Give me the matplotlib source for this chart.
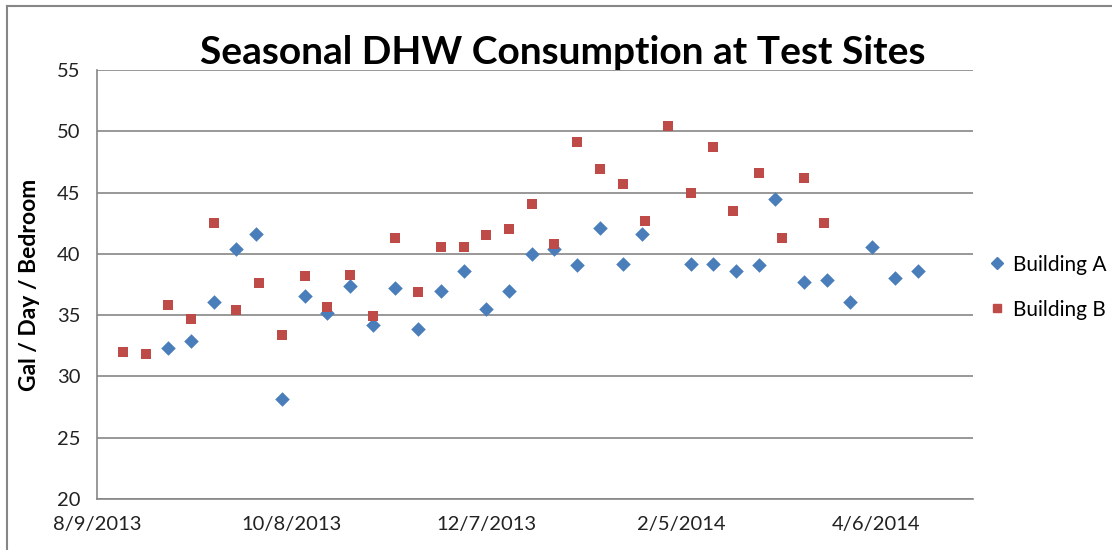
import datetime as dt

import matplotlib
matplotlib.use("Agg")
import matplotlib.dates as mdates
from matplotlib import pyplot as plt
from matplotlib.lines import Line2D

# data (day offsets from 8/9/2013)
START = dt.date(2013, 8, 9)
days_a = [22, 29, 36, 43, 49, 57, 64, 71, 78, 85, 92, 99, 106, 113, 120, 127,
          134, 141, 148, 155, 162, 168, 183, 190, 197, 204, 209, 218, 225, 232,
          239, 246, 253]
vals_a = [32.3, 32.9, 36.1, 40.4, 41.6, 28.2, 36.6, 35.2, 37.4, 34.2, 37.2, 33.9,
          37.0, 38.6, 35.5, 37.0, 40.0, 40.4, 39.1, 42.1, 39.2, 41.6, 39.2, 39.2,
          38.6, 39.1, 44.5, 37.7, 37.9, 36.1, 40.6, 38.0, 38.6]
days_b = [8, 15, 22, 29, 36, 43, 50, 57, 64, 71, 78, 85, 92, 99, 106, 113, 120,
          127, 134, 141, 148, 155, 162, 169, 176, 183, 190, 196, 204, 211, 218,
          224]
vals_b = [32.0, 31.8, 35.8, 34.7, 42.5, 35.4, 37.6, 33.4, 38.2, 35.7, 38.3, 34.9,
          41.3, 36.9, 40.6, 40.6, 41.5, 42.0, 44.1, 40.8, 49.1, 46.9, 45.7, 42.7,
          50.4, 45.0, 48.7, 43.5, 46.6, 41.3, 46.2, 42.5]
tick_days = [0, 60, 120, 180, 240]
y_ticks = [20, 25, 30, 35, 40, 45, 50, 55]

BLUE = "#4A7EBB"
RED = "#BE4B48"
GRID = "#868686"
FONT = "Lato"

dates_a = [START + dt.timedelta(days=d) for d in days_a]
dates_b = [START + dt.timedelta(days=d) for d in days_b]
tick_dates = [START + dt.timedelta(days=d) for d in tick_days]

fig = plt.figure(figsize=(11.12, 5.5), dpi=100)
fig.patch.set_facecolor("white")
ax = fig.add_axes([0.0872, 0.0927, 0.7878, 0.78])

ax.scatter(dates_a, vals_a, marker="D", s=55, color=BLUE, zorder=3,
           linewidths=0)
ax.scatter(dates_b, vals_b, marker="s", s=62, color=RED, zorder=3,
           linewidths=0)

ax.set_xlim(START, START + dt.timedelta(days=270))
ax.set_ylim(20, 55)
ax.set_yticks(y_ticks)
ax.set_xticks(tick_dates)
ax.xaxis.set_major_formatter(
    plt.FuncFormatter(lambda v, _: "{d.month}/{d.day}/{d.year}".format(
        d=mdates.num2date(v))))
ax.grid(axis="y", color=GRID, linewidth=1.2)
ax.set_axisbelow(True)
for s in ("top", "right"):
    ax.spines[s].set_visible(False)
ax.spines["left"].set_color(GRID)
ax.spines["bottom"].set_color(GRID)
ax.spines["left"].set_linewidth(1.2)
ax.spines["bottom"].set_linewidth(1.2)
ax.tick_params(length=0, labelsize=14.5, colors="#222222", pad=12)
for lab in ax.get_xticklabels() + ax.get_yticklabels():
    lab.set_fontfamily(FONT)

ax.set_ylabel("Gal / Day / Bedroom", fontsize=16.5, fontweight="bold",
              fontfamily=FONT, labelpad=12)
fig.text(0.506, 0.905, "Seasonal DHW Consumption at Test Sites", ha="center",
         va="center", fontsize=28, fontweight="bold", fontfamily=FONT)

handles = [Line2D([], [], marker="D", ls="", color=BLUE, markersize=6),
           Line2D([], [], marker="s", ls="", color=RED, markersize=6)]
fig.legend(handles, ["Building A", "Building B"], loc="center left",
           bbox_to_anchor=(0.87, 0.478), frameon=False, handletextpad=0.3,
           labelspacing=1.2, prop={"family": FONT, "size": 15},
           handlelength=1.0)

# chart frame (only top and left edges are inside the crop)
fig.add_artist(Line2D([0.0063, 1.0], [0.990, 0.990], color=GRID, lw=1.5))
fig.add_artist(Line2D([0.0063, 0.0063], [0.0, 0.990], color=GRID, lw=1.5))

fig.savefig("out.png", dpi=100, facecolor="white")
